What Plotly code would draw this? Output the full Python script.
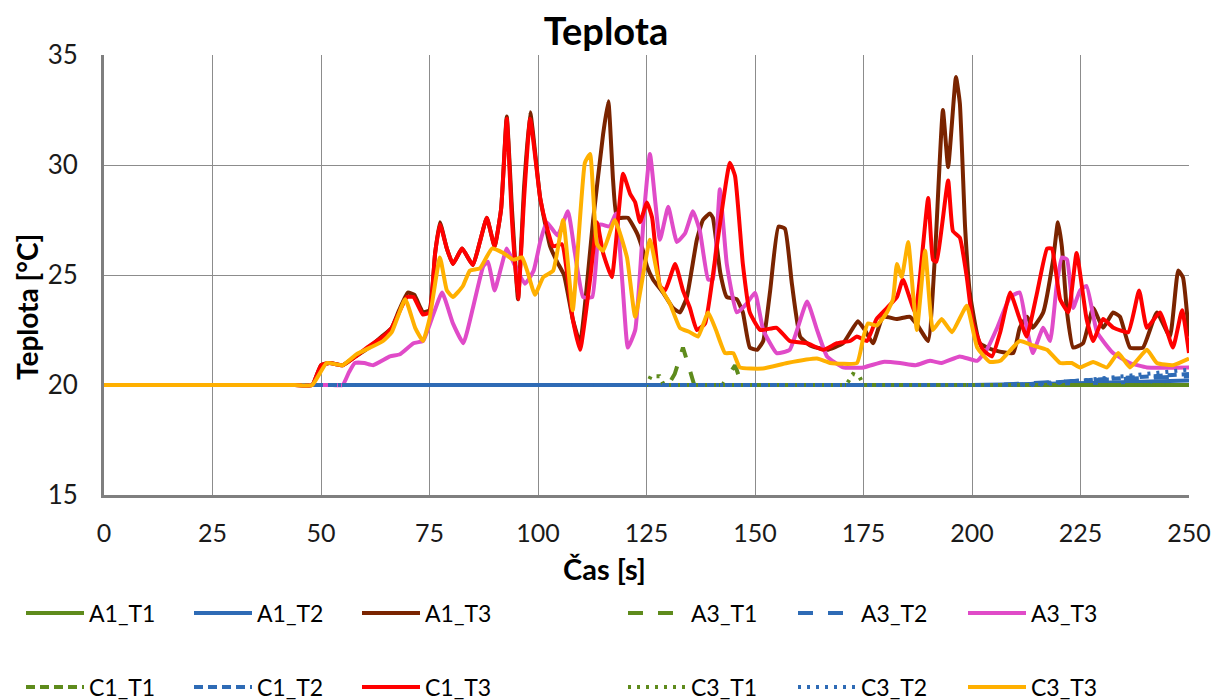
import plotly.graph_objects as go

# ---------------- data ----------------
t_A1_T1 = [0, 125, 250]
v_A1_T1 = [20, 20, 20]
t_A1_T2 = [0, 200, 230, 250]
v_A1_T2 = [20, 20, 20.1, 20.2]
t_A1_T3 = [0, 12, 24, 36, 44, 48, 50, 52, 55, 58, 61, 64, 66.3, 68, 70, 71.5, 73.5, 75, 76.3, 77.4, 79, 80.4, 82.5, 85,
           86.6, 88.2, 90, 91.5, 92.8, 94, 95.4, 96.8, 98.2, 100.5, 102.8, 104.4, 106, 108, 109.7, 111,
           112.7, 115, 116.2, 117.3, 118.2, 120.7, 122.8, 124.2, 125.1, 126.5, 128.8, 131.1, 132.7, 134.3,
           136.6, 138, 139.6, 140.3, 142, 143.5, 145.8, 147.2, 148.8, 150.5, 151.9, 153.5, 155.4, 156.9,
           158.5, 160.4, 162.7, 166.6, 170.3, 173.7, 175.3, 177.2, 179.5, 182.7, 185.7, 187.5, 189.9,
           191.5, 193.3, 194.5, 196.3, 197.2, 198.4, 199.5, 201.8, 204.8, 209.5, 211, 212.7, 214, 216.4,
           218.7, 219.8, 220.7, 221.9, 223.3, 225.6, 227.9, 230.2, 232.5, 234.1, 236.4, 239.4, 242.6,
           245.6, 247.5, 248.6, 250]
v_A1_T3 = [20, 20, 20, 20, 20, 20, 20.9, 21, 20.9, 21.3, 21.7, 22.2, 22.6, 23.4, 24.2, 24.1, 23.3, 23.4, 26, 27.4, 26.2,
           25.5, 26.2, 25.45, 26.5, 27.6, 26.3, 28, 32.2, 28, 23.9, 29, 32.4, 28.5, 26.3, 25.6, 25, 23,
           21.9, 24, 27.5, 31.4, 32.9, 29.3, 27.6, 27.6, 26.9, 26.1, 25.4, 24.8, 24.2, 23.5, 23.3, 24,
           26.6, 27.5, 27.8, 27.6, 25.1, 24, 23.9, 23.3, 21.7, 21.6, 22, 24.3, 27.2, 27.1, 24.6, 22.2,
           21.8, 21.6, 21.9, 22.9, 22.5, 21.9, 23.1, 23, 23.1, 22.7, 22.0, 26, 32.5, 29.9, 34.0, 32.8,
           27.2, 24.2, 21.9, 21.6, 21.45, 22.6, 23.1, 22.6, 23.3, 25.7, 27.4, 26.3, 23.3, 21.7, 21.9,
           23.5, 22.6, 23.3, 23.1, 21.7, 21.7, 23.3, 22.2, 25.2, 24.9, 22.2]

t_A3_T1 = [0, 130, 131.5, 133.4, 134.5, 136, 142.5, 143.8, 145.4, 147, 250]
v_A3_T1 = [20, 20, 20.5, 21.7, 21, 20, 20, 20.4, 20.9, 20, 20]
t_A3_T2 = [0, 205, 220, 240, 250]
v_A3_T2 = [20, 20, 20.15, 20.3, 20.4]
t_A3_T3 = [0, 12, 24, 36, 46, 52, 55, 56.5, 57.8, 60, 62, 65.9, 68.2, 71.3, 73.5, 75.5, 77.9, 80.4, 82.8, 85, 87.4, 88.5, 90,
           92.8, 94.5, 97, 99, 100.5, 102, 104.5, 106.9, 108.5, 110.4, 112.5, 114.3, 116.5, 118, 119.5,
           120.7, 122.4, 124.5, 125.8, 128.1, 130, 132, 133.9, 135.7, 137.3, 139.2, 140.3, 141.9, 143.5,
           145.8, 148.1, 150, 151.9, 155, 158, 162, 164.3, 166.6, 170.3, 175, 179.5, 183.4, 187, 190.3,
           193, 197.2, 201.2, 203.4, 205.8, 208.8, 211, 212.6, 214, 216.4, 218, 219.5, 220.7, 221.9,
           223.3, 224.9, 226.4, 228.8, 232.5, 236.4, 240.3, 250]
v_A3_T3 = [20, 20, 20, 20, 20, 20, 20, 20.6, 21, 21, 20.9, 21.3, 21.4, 21.9, 22, 23, 24.2, 22.8, 21.9, 23.5, 25.4, 25.6, 24.3,
           26.2, 25.5, 24.6, 25.2, 26.5, 27.4, 26.8, 27.9, 26, 24, 24, 27.3, 27.2, 27.8, 24.5, 21.7, 22.5,
           28, 30.5, 26.6, 28.1, 26.5, 26.9, 27.9, 27, 24.8, 24.8, 28.9, 25.5, 23.3, 23.7, 24.2, 22.5,
           21.45, 21.6, 23.8, 22.5, 21.3, 20.8, 20.8, 21.05, 21, 20.9, 21.1, 21, 21.3, 21.1, 21.6, 22.6,
           24, 24.2, 22.6, 21.45, 22.6, 22, 24.5, 25.8, 25.7, 23.5, 24.3, 24.5, 22.4, 21.45, 21, 20.8, 20.8]

t_C1_T1 = [0, 250]
v_C1_T1 = [20, 20]
t_C1_T2 = [0, 210, 225, 240, 250]
v_C1_T2 = [20, 20, 20.2, 20.4, 20.5]
t_C1_T3 = [0, 12, 24, 36, 44, 48, 50, 52, 55, 58, 60.6, 64.3, 66.3, 68, 69.8, 71.3, 73.5, 75, 76.3, 77.4, 79, 80.4, 82.5,
           85, 86.6, 88.2, 90, 91.5, 92.8, 94, 95.4, 96.8, 98.2, 100.5, 102, 103.5, 105.5, 108, 109.7,
           112, 113.6, 115, 117, 119.6, 121.2, 122.4, 123.5, 125.1, 126.3, 128.1, 129.3, 131.6, 133.4,
           135, 136.6, 138.5, 141.2, 144.2, 145.4, 147.2, 148.8, 151.2, 155, 158, 162, 165.7, 168.9,
           171.9, 173.5, 175.8, 178, 180.4, 182.7, 184.1, 186.9, 189.9, 191, 191.8, 194.5, 195.6, 197.2,
           198.8, 200.2, 202.5, 204.6, 206.5, 208.8, 211, 212.6, 215, 217.3, 218.4, 220.3, 222.2, 224.1,
           226.4, 227.9, 230.2, 232.6, 236, 238.5, 240.3, 243.3, 246.3, 248.4, 250]
v_C1_T3 = [20, 20, 20, 20, 20, 20, 20.9, 21, 20.9, 21.3, 21.7, 22.2, 22.6, 23.3, 24, 24, 23.2, 23.3, 26, 27.3, 26.2, 25.5,
           26.2, 25.45, 26.5, 27.6, 26.3, 28, 32.1, 27.5, 23.9, 28.5, 32.1, 28.5, 27.2, 26.3, 26.4, 23,
           21.6, 24.8, 27.4, 26, 24.9, 29.6, 28.7, 28.3, 27.4, 28.3, 27.6, 24.5, 24.3, 25.5, 24.3, 23.5,
           22.5, 22.8, 26.3, 30.1, 29.5, 25.5, 23.3, 22.5, 22.6, 22, 21.9, 21.6, 21.9, 22, 22.2, 22, 23,
           23.5, 24, 24.8, 23.3, 28.5, 25.7, 25.6, 29.3, 27, 26.7, 24.9, 22.8, 21.6, 21.3, 22.4, 24.2,
           23, 22.2, 24.2, 26.2, 26.2, 23.9, 23.3, 26, 23, 22, 23, 22.6, 22.4, 24.3, 22.6, 23.3, 21.7,
           23.4, 21.45]

t_C3_T1 = [0, 125, 126, 128, 129, 171, 172.6, 174, 175, 250]
v_C3_T1 = [20, 20, 20.4, 20.4, 20, 20, 20.5, 20.4, 20, 20]
t_C3_T2 = [0, 215, 230, 245, 250]
v_C3_T2 = [20, 20, 20.3, 20.6, 20.7]
t_C3_T3 = [0, 12, 24, 36, 44, 48, 51.3, 55, 58.2, 61.3, 64.3, 66.3, 69.4, 71.7, 73.5, 75, 77.4, 79, 80.4, 82.7, 84.3,
           86.6, 89.4, 92, 94.3, 96.3, 97.5, 99.3, 101.2, 103.5, 105.8, 108, 110.8, 112, 113.6, 115,
           117.7, 120.5, 122.4, 125.8, 128.1, 130.4, 132.7, 135, 136.9, 139.2, 141, 143.1, 145, 146.5,
           151.8, 157.4, 164.3, 167.3, 173.5, 175, 176, 178, 180.4, 181.8, 182.7, 183.8, 185.3, 186.4,
           187.3, 189.2, 191, 193, 195.4, 198.8, 201.2, 204.1, 206.5, 211, 214, 217.3, 220.3, 223, 224.9,
           227.9, 231.1, 233.7, 236.4, 240.3, 242.6, 246.3, 250]
v_C3_T3 = [20, 20, 20, 20, 20, 20, 21, 20.9, 21.4, 21.7, 22, 22.4, 23.9, 22.6, 22, 23, 25.8, 24.3, 24, 24.5, 25.2, 25.3,
           26.2, 26, 25.7, 25.8, 25.2, 24.1, 24.9, 25.2, 27.5, 23.4, 30.1, 30.5, 26.4, 26.1, 27.5, 25.8,
           23.1, 26.6, 24.5, 23.7, 22.6, 22.4, 22.2, 23.3, 22.5, 21.45, 21.45, 20.8, 20.75, 21, 21.2, 21,
           21, 22.2, 22.8, 22.7, 23.3, 23.9, 25.5, 24.9, 26.5, 24.2, 22.5, 26.1, 22.5, 23, 22.4, 23.6,
           21.7, 21.05, 21.1, 22, 21.8, 21.6, 21, 21, 20.8, 21.05, 20.8, 21.45, 20.8, 21.6, 21, 20.9, 21.2]

x_ticks = [0, 25, 50, 75, 100, 125, 150, 175, 200, 225, 250]
y_ticks = [15, 20, 25, 30, 35]

GREEN = "#5e8b1c"
BLUE = "#2e6bb5"
BROWN = "#7a2400"
RED = "#ff0000"
PINK = "#e04bc8"
ORANGE = "#ffb000"
W = 4

# (name, t, v, colour, dash, legend id, shape)
series = [
    ("A1_T1", t_A1_T1, v_A1_T1, GREEN, "solid", "legend", "linear"),
    ("A1_T2", t_A1_T2, v_A1_T2, BLUE, "solid", "legend", "linear"),
    ("A1_T3", t_A1_T3, v_A1_T3, BROWN, "solid", "legend", "spline"),
    ("A3_T1", t_A3_T1, v_A3_T1, GREEN, "15px,15px", "legend2", "linear"),
    ("A3_T2", t_A3_T2, v_A3_T2, BLUE, "15px,15px", "legend2", "linear"),
    ("A3_T3", t_A3_T3, v_A3_T3, PINK, "solid", "legend2", "spline"),
    ("C1_T1", t_C1_T1, v_C1_T1, GREEN, "9px,5px", "legend3", "linear"),
    ("C1_T2", t_C1_T2, v_C1_T2, BLUE, "9px,5px", "legend3", "linear"),
    ("C1_T3", t_C1_T3, v_C1_T3, RED, "solid", "legend3", "spline"),
    ("C3_T1", t_C3_T1, v_C3_T1, GREEN, "3px,6px", "legend4", "linear"),
    ("C3_T2", t_C3_T2, v_C3_T2, BLUE, "3px,6px", "legend4", "linear"),
    ("C3_T3", t_C3_T3, v_C3_T3, ORANGE, "solid", "legend4", "spline"),
]

fig = go.Figure()
for name, t, v, col, dash, leg, shape in series:
    line = dict(color=col, width=W, dash=dash, shape=shape)
    if shape == "spline":
        line["smoothing"] = 0.4
    fig.add_trace(go.Scatter(x=t, y=v, mode="lines", name=name, line=line, legend=leg))

FONT = "Lato"
FW, FH = 1213, 700
L, T = 104, 55
PW, PH = 1085, 440
R = FW - L - PW
B = FH - T - PH


def px_x(page_x):
    return (page_x - L) / PW


def px_y(page_y):
    return (T + PH - page_y) / PH


def legend_at(x_px, y_px, ew):
    return dict(
        x=px_x(x_px), y=px_y(y_px),
        orientation="h", xanchor="left", yanchor="middle",
        entrywidth=ew, entrywidthmode="pixels", itemwidth=58,
        font=dict(family=FONT, size=23, color="#000000"),
        bgcolor="rgba(0,0,0,0)", traceorder="normal",
    )


fig.update_layout(
    width=FW, height=FH,
    margin=dict(l=L, r=R, t=T, b=B, autoexpand=False),
    paper_bgcolor="white", plot_bgcolor="white",
    font=dict(family=FONT, color="#000000"),
    title=dict(text="<b>Teplota</b>", x=606 / FW, xref="container", xanchor="center",
               y=1 - 32 / FH, yref="container", yanchor="middle",
               font=dict(family=FONT, size=38, color="#000000")),
    legend=legend_at(21, 613, 95),
    legend2=legend_at(623, 613, 97),
    legend3=legend_at(21, 687, 95),
    legend4=legend_at(623, 687, 97),
    xaxis=dict(range=[0, 250], tickvals=x_ticks, ticktext=[str(v) for v in x_ticks],
               showgrid=True, gridcolor="#8c8c8c", gridwidth=1,
               showline=True, linecolor="#7f7f7f", linewidth=3,
               ticks="", ticklabelstandoff=14, zeroline=False,
               tickfont=dict(family=FONT, size=25, color="#1a1a1a")),
    yaxis=dict(range=[15, 35], tickvals=y_ticks, ticktext=[str(v) for v in y_ticks],
               showgrid=True, gridcolor="#8c8c8c", gridwidth=1,
               showline=True, linecolor="#7f7f7f", linewidth=3,
               ticks="", ticklabelstandoff=18, zeroline=False,
               tickfont=dict(family=FONT, size=26, color="#1a1a1a")),
    annotations=[
        dict(text="<b>Čas [s]</b>", xref="paper", yref="paper",
             x=px_x(604), y=px_y(568), xanchor="center", yanchor="middle",
             showarrow=False, font=dict(family=FONT, size=29, color="#000000")),
        dict(text="<b>Teplota [°C]</b>", xref="paper", yref="paper",
             x=px_x(27), y=px_y(307), xanchor="center", yanchor="middle",
             textangle=-90, showarrow=False, font=dict(family=FONT, size=28, color="#000000")),
    ],
    showlegend=True,
)

fig.write_html(
    "out.html",
    config={"displayModeBar": False},
    post_script=(
        "document.body.style.margin='0';"
        "document.body.style.padding='0';"
        "document.body.style.overflow='hidden';"
        "document.documentElement.style.overflow='hidden';"
    ),
)
